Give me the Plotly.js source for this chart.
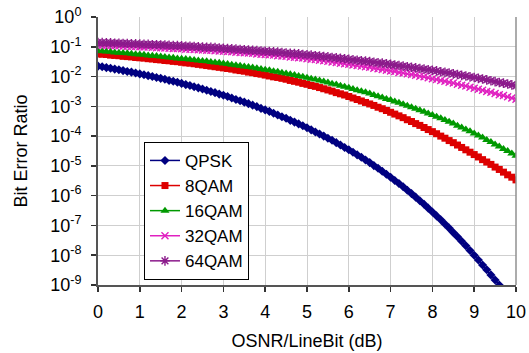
<!DOCTYPE html>
<html>
<head>
<meta charset="utf-8">
<script src="https://cdn.plot.ly/plotly-3.0.1.min.js"></script>
<style>
  html, body { margin: 0; padding: 0; background: #ffffff; }
  #chart { width: 529px; height: 353px; }
</style>
</head>
<body>
<div id="chart"></div>
<script>
// OSNR per line bit (dB)
const osnr = [
  0,0.1,0.2,0.3,0.4,0.5,0.6,0.7,0.8,0.9,
  1,1.1,1.2,1.3,1.4,1.5,1.6,1.7,1.8,1.9,
  2,2.1,2.2,2.3,2.4,2.5,2.6,2.7,2.8,2.9,
  3,3.1,3.2,3.3,3.4,3.5,3.6,3.7,3.8,3.9,
  4,4.1,4.2,4.3,4.4,4.5,4.6,4.7,4.8,4.9,
  5,5.1,5.2,5.3,5.4,5.5,5.6,5.7,5.8,5.9,
  6,6.1,6.2,6.3,6.4,6.5,6.6,6.7,6.8,6.9,
  7,7.1,7.2,7.3,7.4,7.5,7.6,7.7,7.8,7.9,
  8,8.1,8.2,8.3,8.4,8.5,8.6,8.7,8.8,8.9,
  9,9.1,9.2,9.3,9.4,9.5,9.6,9.7,9.8,9.9,
  10
];

// Series names
const seriesNames = ["QPSK", "8QAM", "16QAM", "32QAM", "64QAM"];

// log10(BER), one value per OSNR step
const qpskExp = [
  -1.65,-1.67,-1.70,-1.72,-1.75,-1.77,-1.80,-1.83,-1.85,-1.88,
  -1.91,-1.94,-1.97,-2.00,-2.03,-2.06,-2.09,-2.13,-2.16,-2.19,
  -2.23,-2.27,-2.30,-2.34,-2.38,-2.42,-2.46,-2.50,-2.54,-2.59,
  -2.63,-2.67,-2.72,-2.77,-2.81,-2.86,-2.91,-2.96,-3.01,-3.07,
  -3.12,-3.17,-3.23,-3.29,-3.35,-3.40,-3.47,-3.53,-3.59,-3.65,
  -3.72,-3.79,-3.86,-3.93,-4.00,-4.07,-4.14,-4.22,-4.30,-4.38,
  -4.46,-4.54,-4.63,-4.71,-4.80,-4.89,-4.99,-5.08,-5.18,-5.28,
  -5.38,-5.49,-5.59,-5.70,-5.82,-5.93,-6.05,-6.17,-6.29,-6.42,
  -6.55,-6.68,-6.81,-6.95,-7.09,-7.24,-7.38,-7.53,-7.68,-7.84,
  -8.00,-8.16,-8.33,-8.49,-8.66,-8.83,-9.00,-9.18
];
const qam8Exp = [
  -1.24,-1.25,-1.26,-1.28,-1.29,-1.30,-1.32,-1.33,-1.34,-1.36,
  -1.37,-1.38,-1.40,-1.41,-1.43,-1.44,-1.46,-1.47,-1.49,-1.50,
  -1.52,-1.54,-1.55,-1.57,-1.59,-1.61,-1.63,-1.65,-1.67,-1.69,
  -1.71,-1.73,-1.75,-1.78,-1.80,-1.82,-1.85,-1.87,-1.90,-1.92,
  -1.95,-1.98,-2.01,-2.03,-2.06,-2.09,-2.13,-2.16,-2.19,-2.23,
  -2.26,-2.30,-2.33,-2.37,-2.41,-2.45,-2.49,-2.54,-2.58,-2.62,
  -2.67,-2.72,-2.77,-2.82,-2.87,-2.92,-2.97,-3.03,-3.08,-3.14,
  -3.20,-3.26,-3.32,-3.38,-3.45,-3.51,-3.58,-3.64,-3.71,-3.78,
  -3.85,-3.92,-4.00,-4.07,-4.15,-4.22,-4.30,-4.38,-4.46,-4.54,
  -4.62,-4.70,-4.79,-4.87,-4.95,-5.04,-5.12,-5.21,-5.30,-5.38,
  -5.47
];
const qam16Exp = [
  -1.14,-1.15,-1.16,-1.17,-1.19,-1.20,-1.21,-1.22,-1.23,-1.25,
  -1.26,-1.27,-1.29,-1.30,-1.31,-1.33,-1.34,-1.36,-1.37,-1.39,
  -1.40,-1.41,-1.43,-1.44,-1.46,-1.48,-1.49,-1.51,-1.53,-1.54,
  -1.56,-1.58,-1.60,-1.62,-1.64,-1.66,-1.68,-1.70,-1.72,-1.75,
  -1.77,-1.79,-1.82,-1.84,-1.87,-1.90,-1.92,-1.95,-1.98,-2.01,
  -2.04,-2.07,-2.10,-2.13,-2.17,-2.20,-2.24,-2.27,-2.31,-2.34,
  -2.38,-2.42,-2.46,-2.49,-2.53,-2.57,-2.62,-2.66,-2.70,-2.75,
  -2.79,-2.84,-2.88,-2.93,-2.98,-3.03,-3.08,-3.13,-3.18,-3.24,
  -3.29,-3.35,-3.40,-3.46,-3.52,-3.58,-3.65,-3.71,-3.78,-3.84,
  -3.91,-3.98,-4.05,-4.13,-4.20,-4.28,-4.35,-4.43,-4.50,-4.58,
  -4.66
];
const qam32Exp = [
  -0.94,-0.95,-0.95,-0.96,-0.96,-0.97,-0.98,-0.98,-0.99,-0.99,
  -1.00,-1.01,-1.01,-1.02,-1.03,-1.03,-1.04,-1.05,-1.06,-1.06,
  -1.07,-1.08,-1.08,-1.09,-1.10,-1.11,-1.12,-1.12,-1.13,-1.14,
  -1.15,-1.16,-1.17,-1.18,-1.19,-1.20,-1.21,-1.22,-1.24,-1.25,
  -1.26,-1.27,-1.28,-1.30,-1.31,-1.32,-1.34,-1.35,-1.37,-1.38,
  -1.40,-1.42,-1.43,-1.45,-1.47,-1.49,-1.51,-1.53,-1.55,-1.57,
  -1.59,-1.61,-1.63,-1.65,-1.67,-1.69,-1.72,-1.74,-1.76,-1.79,
  -1.81,-1.83,-1.86,-1.88,-1.91,-1.93,-1.96,-1.99,-2.01,-2.04,
  -2.07,-2.10,-2.13,-2.16,-2.19,-2.22,-2.26,-2.29,-2.32,-2.36,
  -2.39,-2.43,-2.46,-2.50,-2.53,-2.57,-2.61,-2.64,-2.68,-2.72,
  -2.76
];
const qam64Exp = [
  -0.86,-0.86,-0.87,-0.87,-0.88,-0.88,-0.89,-0.89,-0.90,-0.90,
  -0.91,-0.92,-0.92,-0.93,-0.93,-0.94,-0.94,-0.95,-0.96,-0.96,
  -0.97,-0.98,-0.98,-0.99,-1.00,-1.01,-1.02,-1.02,-1.03,-1.04,
  -1.05,-1.06,-1.07,-1.08,-1.09,-1.10,-1.11,-1.12,-1.13,-1.14,
  -1.15,-1.16,-1.17,-1.18,-1.19,-1.21,-1.22,-1.23,-1.24,-1.26,
  -1.27,-1.28,-1.30,-1.31,-1.33,-1.34,-1.36,-1.37,-1.39,-1.40,
  -1.42,-1.44,-1.45,-1.47,-1.48,-1.50,-1.52,-1.54,-1.55,-1.57,
  -1.59,-1.61,-1.63,-1.65,-1.67,-1.69,-1.71,-1.73,-1.75,-1.77,
  -1.79,-1.81,-1.84,-1.86,-1.88,-1.91,-1.93,-1.96,-1.98,-2.01,
  -2.03,-2.06,-2.08,-2.11,-2.14,-2.17,-2.20,-2.22,-2.25,-2.28,
  -2.31
];

// Axis ticks
const xTicks = [0,1,2,3,4,5,6,7,8,9,10];
const yTickVals = [1, 1e-1, 1e-2, 1e-3, 1e-4, 1e-5, 1e-6, 1e-7, 1e-8, 1e-9];
const yTickText = ["10<sup>0</sup>","10<sup>-1</sup>","10<sup>-2</sup>","10<sup>-3</sup>","10<sup>-4</sup>",
                   "10<sup>-5</sup>","10<sup>-6</sup>","10<sup>-7</sup>","10<sup>-8</sup>","10<sup>-9</sup>"];

const toBer = arr => arr.map(e => Math.pow(10, e));

const styles = [
  {color: "#000080", symbol: "diamond", size: 7, lw: 0},
  {color: "#DD0000", symbol: "square", size: 7, lw: 0},
  {color: "#009900", symbol: "triangle-up", size: 8, lw: 0},
  {color: "#E020C0", symbol: "x-thin-open", size: 7, lw: 1.4},
  {color: "#8B1A8B", symbol: "asterisk-open", size: 8, lw: 1.4}
];
const expSets = [qpskExp, qam8Exp, qam16Exp, qam32Exp, qam64Exp];

const traces = expSets.map((e, i) => ({
  type: "scatter",
  mode: "lines+markers",
  name: seriesNames[i],
  x: osnr.slice(0, e.length),
  y: toBer(e),
  line: {color: styles[i].color, width: 1.5},
  marker: {
    symbol: styles[i].symbol,
    size: styles[i].size,
    color: styles[i].color,
    line: {color: styles[i].color, width: styles[i].lw}
  },
  cliponaxis: true
}));

const font = "'Liberation Sans', Arial, sans-serif";

const layout = {
  width: 529,
  height: 353,
  margin: {l: 98, r: 13, t: 17, b: 68},
  paper_bgcolor: "#ffffff",
  plot_bgcolor: "#ffffff",
  font: {family: font, size: 18, color: "#000000"},
  showlegend: true,
  legend: {
    x: 0.11, y: 0.534, xanchor: "left", yanchor: "top",
    bgcolor: "#ffffff", bordercolor: "#000000", borderwidth: 1,
    font: {family: font, size: 17, color: "#000000"},
    itemwidth: 30, tracegroupgap: 0
  },
  xaxis: {
    range: [0, 10],
    tickvals: xTicks,
    ticktext: xTicks.map(String),
    showgrid: true, gridcolor: "#CFCFCF", gridwidth: 1,
    showline: true, linecolor: "#555555", linewidth: 2,
    ticks: "outside", ticklen: 5, tickwidth: 1.5, tickcolor: "#333333",
    zeroline: false,
    ticklabelstandoff: 4,
    tickfont: {family: font, size: 18},
    title: {text: "OSNR/LineBit (dB)", font: {family: font, size: 18}, standoff: 14}
  },
  yaxis: {
    type: "log",
    range: [-9, 0],
    tickvals: yTickVals,
    ticktext: yTickText,
    showgrid: true, gridcolor: "#CFCFCF", gridwidth: 1,
    showline: true, linecolor: "#555555", linewidth: 2,
    ticks: "outside", ticklen: 5, tickwidth: 1.5, tickcolor: "#333333",
    zeroline: false,
    ticklabelstandoff: 6,
    tickfont: {family: font, size: 18},
    title: {text: "Bit Error Ratio", font: {family: font, size: 18}, standoff: 18}
  },
  shapes: [
    {type: "line", xref: "paper", yref: "paper", x0: 1, x1: 1, y0: 0, y1: 1,
     line: {color: "#909090", width: 1.5}}
  ]
};

Plotly.newPlot("chart", traces, layout, {displayModeBar: false, staticPlot: true});
</script>
</body>
</html>
